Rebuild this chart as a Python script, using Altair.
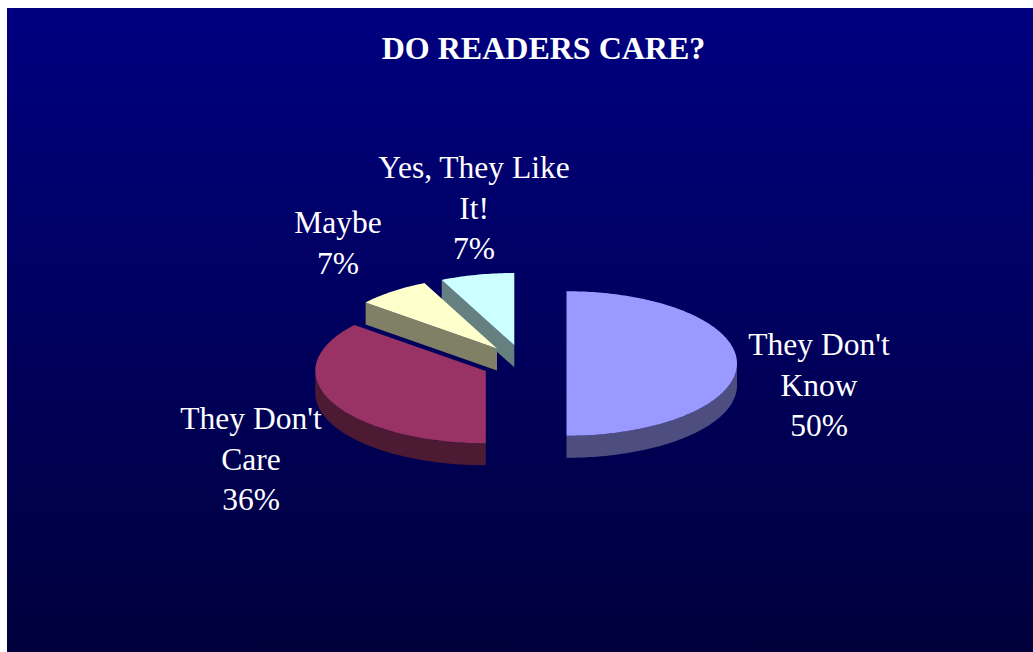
import math
import altair as alt
import pandas as pd

# Chart content
title_text = "DO READERS CARE?"
categories = ["They Don't Know", "They Don't Care", "Maybe", "Yes, They Like It!"]
shares = [50, 36, 7, 7]
label_lines = ["They Don't\nKnow", "They Don't\nCare", "Maybe", "Yes, They Like\nIt!"]

# Colours: lit top faces and shaded side walls
top_colors = ["#9999ff", "#993366", "#ffffcc", "#ccffff"]
wall_colors = ["#4d4d80", "#4d1a33", "#808066", "#668080"]

# Tilted-pie geometry, in canvas pixels
WIDTH, HEIGHT = 1033, 652
RX, RY, DEPTH = 170.5, 72.3, 22
centres = [(566.5, 363.5), (485.8, 371), (497, 348.5), (514.3, 345.3)]
# Centre of each label's first line
label_anchors = [(819, 346), (251, 420), (338, 224), (474, 169)]


def rim(cx, cy, angle, drop=0.0):
    """Point on the tilted rim; angle is in degrees clockwise from 12 o'clock."""
    rad = math.radians(angle)
    return [cx + RX * math.sin(rad), cy - RY * math.cos(rad) + drop]


def arc(cx, cy, start, end, drop=0.0):
    steps = max(2, int(abs(end - start)))
    return [rim(cx, cy, start + (end - start) * i / steps, drop) for i in range(steps + 1)]


def feature(name, ring):
    return {
        "type": "Feature",
        "properties": {"name": name},
        "geometry": {"type": "Polygon", "coordinates": [ring + [ring[0]]]},
    }


tops, walls = [], []
running = 0.0
for name, share, (cx, cy) in zip(categories, shares, centres):
    start = running / sum(shares) * 360
    running += share
    end = running / sum(shares) * 360
    tops.append(feature(name, [[cx, cy]] + arc(cx, cy, start, end)))

    # Outer wall: only the front half of the rim faces the viewer
    lo, hi = max(start, 90), min(end, 270)
    if lo < hi:
        walls.append(feature(name, arc(cx, cy, lo, hi) + arc(cx, cy, hi, lo, DEPTH)))
    # Radial wall: the cut edge is visible on the slices at the back left
    if start > 270:
        corner = rim(cx, cy, start)
        walls.append(feature(name, [corner, [cx, cy], [cx, cy + DEPTH], [corner[0], corner[1] + DEPTH]]))

labels = pd.DataFrame({
    "text": [f"{line}\n{share}%" for line, share in zip(label_lines, shares)],
    "x": [a[0] for a in label_anchors],
    "y": [a[1] for a in label_anchors],
})

projection = dict(type="identity", scale=1, translate=[0, 0])

backdrop = alt.Chart(pd.DataFrame({"a": [0]})).mark_rect(
    color=alt.Gradient(
        gradient="linear", x1=0, x2=0, y1=0, y2=1,
        stops=[alt.GradientStop(color="#000080", offset=0),
               alt.GradientStop(color="#00003c", offset=1)],
    )
).encode(x=alt.value(7), x2=alt.value(WIDTH), y=alt.value(8), y2=alt.value(HEIGHT))

wall_layer = alt.Chart(alt.Data(values=walls)).mark_geoshape().encode(
    color=alt.Color("properties.name:N", legend=None,
                    scale=alt.Scale(domain=categories, range=wall_colors))
).project(**projection)

top_layer = alt.Chart(alt.Data(values=tops)).mark_geoshape().encode(
    color=alt.Color("properties.name:N", legend=None,
                    scale=alt.Scale(domain=categories, range=top_colors))
).project(**projection)

label_layer = alt.Chart(labels).mark_text(
    font="Liberation Serif", fontSize=31.5, color="white",
    lineBreak="\n", lineHeight=40.5, align="center", baseline="middle",
).encode(
    x=alt.X("x:Q", scale=None),
    y=alt.Y("y:Q", scale=None),
    text="text:N",
)

title_layer = alt.Chart(pd.DataFrame({"t": [title_text]})).mark_text(
    font="Liberation Serif", fontSize=32, fontWeight="bold", color="white",
    align="center", baseline="middle",
).encode(x=alt.value(543.5), y=alt.value(49), text="t:N")

chart = (
    alt.layer(backdrop, wall_layer, top_layer, label_layer, title_layer)
    .resolve_scale(color="independent")
    .properties(
        width=WIDTH, height=HEIGHT, padding=0, background="white",
        autosize=alt.AutoSizeParams(type="none"),
    )
    .configure_view(stroke=None)
)

chart.save("out.html", embed_options={"renderer": "svg", "actions": False})
